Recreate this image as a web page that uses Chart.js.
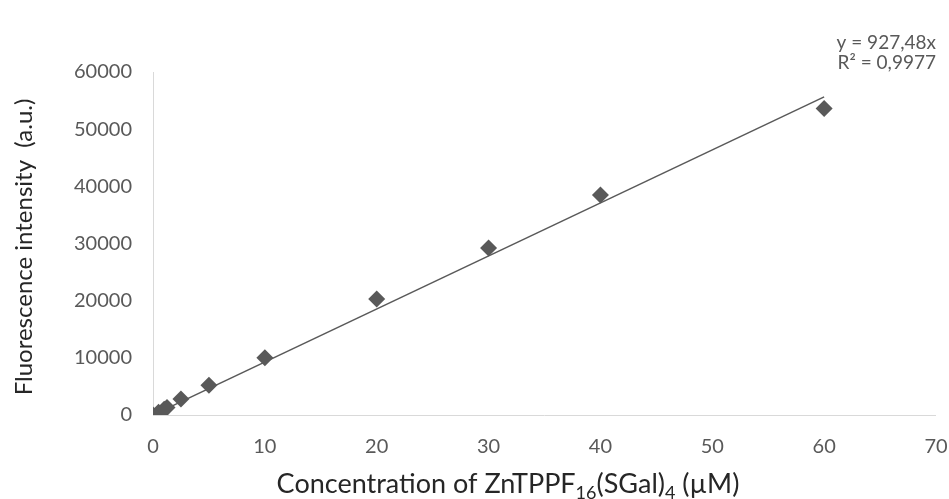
<!DOCTYPE html>
<html>
<head>
<meta charset="utf-8">
<script src="https://cdn.jsdelivr.net/npm/chart.js@4"></script>
<style>
  html, body { margin: 0; padding: 0; background: #fff; }
  #wrap { width: 949px; height: 499px; }
</style>
</head>
<body>
<div id="wrap"><canvas id="chart" width="949" height="499"></canvas></div>
<script>
// data
const concentrations = [0, 0.5, 1, 1.25, 2.5, 5, 10, 20, 30, 40, 60];
const intensities = [0, 500, 1000, 1300, 2800, 5200, 10000, 20300, 29200, 38500, 53600];
const slope = 927.48;
const trendRange = [0, 60];
const equationLines = ['y = 927,48x', 'R² = 0,9977'];

const FONT = 'Lato, "Open Sans", sans-serif';
const GREY = '#595959';

const points = concentrations.map((c, i) => ({ x: c, y: intensities[i] }));
const trend = trendRange.map(x => ({ x: x, y: slope * x }));

// axis titles (with subscripts) and the trendline label
const labelsPlugin = {
    id: 'labels',
    afterDraw(chart) {
        const c = chart.ctx;
        c.save();

        // trendline equation
        c.fillStyle = GREY;
        c.font = '19px ' + FONT;
        c.textAlign = 'right';
        c.textBaseline = 'middle';
        c.fillText(equationLines[0], 936, 43);
        c.fillText(equationLines[1], 936, 63);

        // x title
        const parts = [
            ['Concentration of ZnTPPF', false],
            ['16', true],
            ['(SGal)', false],
            ['4', true],
            [' (µM)', false]
        ];
        const big = '27px ' + FONT, small = '18px ' + FONT;
        let total = 0;
        parts.forEach(p => { c.font = p[1] ? small : big; total += c.measureText(p[0]).width; });
        let x = 508 - total / 2;
        const base = 493;
        c.fillStyle = '#262626';
        c.textAlign = 'left';
        c.textBaseline = 'alphabetic';
        parts.forEach(p => {
            c.font = p[1] ? small : big;
            c.fillText(p[0], x, p[1] ? base + 6 : base);
            x += c.measureText(p[0]).width;
        });

        // y title
        c.translate(24, 247);
        c.rotate(-Math.PI / 2);
        c.font = '24px ' + FONT;
        c.textAlign = 'center';
        c.textBaseline = 'middle';
        c.fillText('Fluorescence intensity  (a.u.)', 0, 0);
        c.restore();
    }
};

new Chart(document.getElementById('chart'), {
    type: 'scatter',
    data: {
        datasets: [{
            data: points,
            pointStyle: 'rectRot',
            pointRadius: 8.5,
            backgroundColor: GREY,
            borderColor: GREY,
            borderWidth: 0,
            order: 1
        }, {
            type: 'line',
            data: trend,
            borderColor: GREY,
            borderWidth: 1.5,
            pointRadius: 0,
            fill: false,
            order: 2
        }]
    },
    options: {
        responsive: false,
        animation: false,
        layout: { padding: { top: 72, right: 0, bottom: 0, left: 0 } },
        plugins: {
            legend: { display: false },
            tooltip: { enabled: false }
        },
        scales: {
            x: {
                type: 'linear',
                min: 0,
                max: 70,
                border: { display: false },
                grid: {
                    drawTicks: false,
                    color: ctx => ctx.tick && ctx.tick.value === 0 ? '#d9d9d9' : 'rgba(0,0,0,0)'
                },
                ticks: {
                    stepSize: 10,
                    padding: 20,
                    color: GREY,
                    font: { size: 20, family: FONT },
                    callback: v => String(v)
                },
                afterFit: s => { s.height = 84; s.paddingRight = 13; }
            },
            y: {
                min: 0,
                max: 60000,
                border: { display: false },
                grid: {
                    drawTicks: false,
                    color: ctx => ctx.tick && ctx.tick.value === 0 ? '#d9d9d9' : 'rgba(0,0,0,0)'
                },
                ticks: {
                    stepSize: 10000,
                    padding: 21,
                    color: GREY,
                    font: { size: 20, family: FONT },
                    callback: v => String(v)
                },
                afterFit: s => { s.width = 153; }
            }
        }
    },
    plugins: [labelsPlugin]
});
</script>
</body>
</html>
